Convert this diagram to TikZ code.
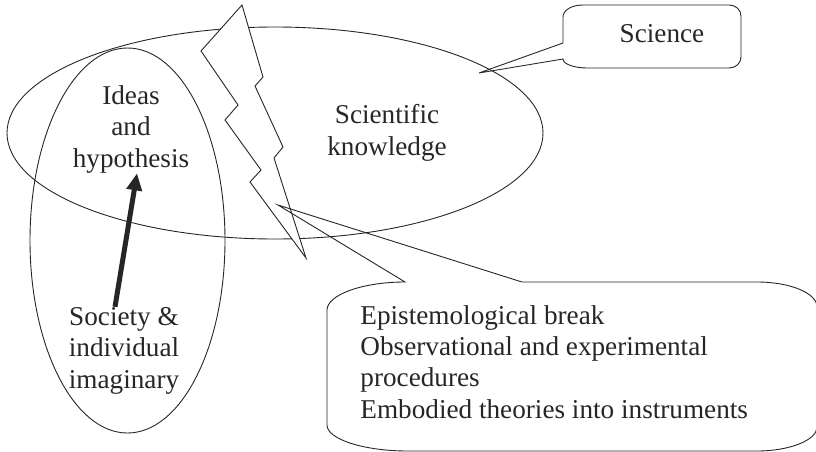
\documentclass[tikz,border=0pt]{standalone}
\usepackage{fontspec}
\setmainfont{Liberation Serif}
\usepackage{tikz}
\usetikzlibrary{arrows.meta}
\begin{document}
\begin{tikzpicture}[x=1pt,y=-1pt,line width=0.9pt,font=\fontsize{27.2}{31.3}\selectfont,
  txt/.style={inner sep=0pt,text=black!85,align=center},
  bigarrow/.style={line width=5pt,black!85,-{Triangle[length=17pt,width=15pt]}}]
\useasboundingbox (0,0) rectangle (816,452);
\clip (0,0) rectangle (816,452);
\draw [black!85] (275,133) ellipse [x radius=268, y radius=106];
\draw [black!85] (127.5,240.5) ellipse [x radius=97.5, y radius=192.5];
\draw [black!85, fill=white] (242,5) -- (201,51) -- (238,105) -- (225,120) -- (261,170) -- (250,182) -- (306,258) -- (274,158) -- (283,147) -- (255,86) -- (263,77) -- cycle;
\draw [black!85] (563,43) -- (479,73) -- (563,59) .. controls (563,64) and (574,68) .. (587,68) -- (729,68) .. controls (736,68) and (741,63) .. (741,57) -- (741,16) .. controls (741,10) and (736,5) .. (729,5) -- (583,5) .. controls (572,5) and (563,10) .. (563,17) -- cycle;
\draw [black!85] (405,282) -- (278,205) -- (522,282) -- (757,282) .. controls (790,282) and (817,293) .. (817,307) -- (817,427) .. controls (817,440) and (790,451) .. (757,451) -- (408,451) .. controls (363,451) and (327,439) .. (327,425) -- (327,310) .. controls (327,295) and (362,282) .. cycle;
\node [txt, anchor=base] (science) at (662,43) {Science};
\node [txt, anchor=base] (knowledge) at (387,155) {Scientific\\knowledge};
\node [txt, anchor=base] (ideas) at (131,167) {Ideas\\and\\hypothesis};
\node [txt, anchor=base] (society) at (124,388) {Society \&\\individual\\imaginary};
\node [txt, align=left, anchor=base west] (procedures) at (360,418) {Epistemological break\\Observational and experimental\\procedures\\Embodied theories into instruments};
\draw [bigarrow] ([xshift=-9pt]society.north) -- ([xshift=6pt]ideas.south);
\end{tikzpicture}
\end{document}
